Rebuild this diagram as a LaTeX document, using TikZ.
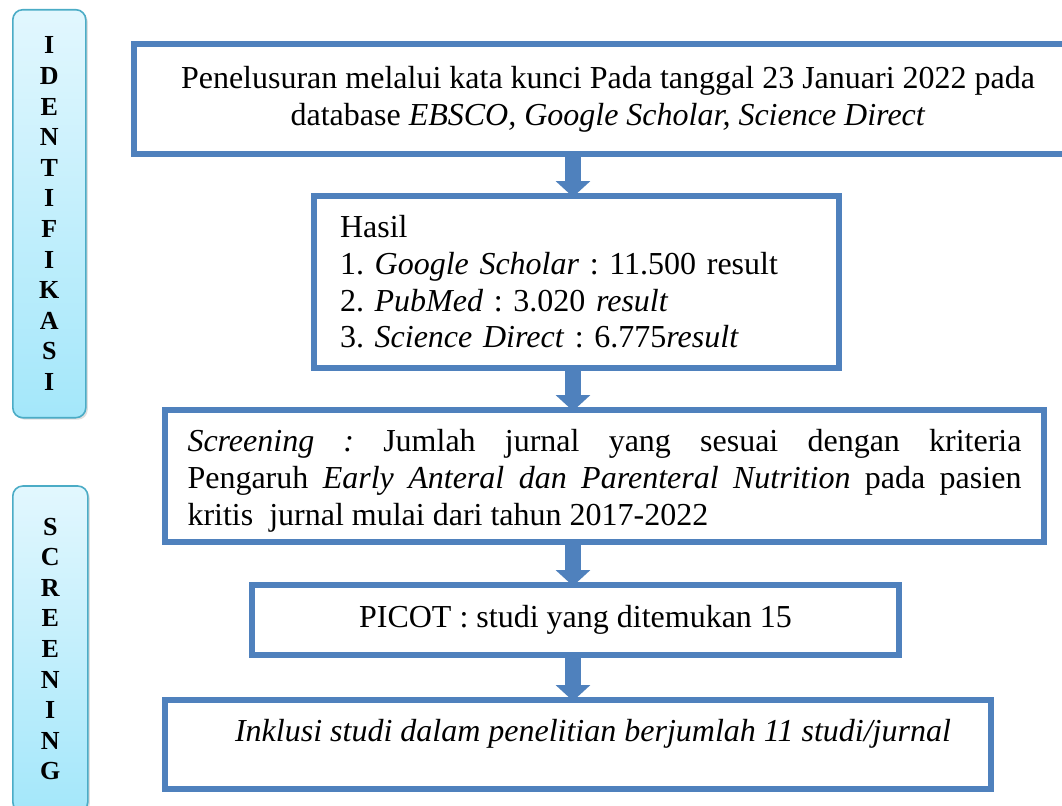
\documentclass[tikz,border=0pt]{standalone}
\usepackage{fontspec}
\setmainfont{Liberation Serif}
\usepackage{xcolor}
\usepackage{tikz}
\usetikzlibrary{arrows.meta, shadows}

\definecolor{boxblue}{RGB}{79,129,189}
\definecolor{sideedge}{RGB}{75,172,198}
\definecolor{sidetop}{RGB}{226,247,254}
\definecolor{sidebottom}{RGB}{164,231,250}

\begin{document}
\begin{tikzpicture}[x=0.5pt, y=-0.5pt,
    flowbox/.style={draw=boxblue, line width=3pt, fill=white, inner sep=0pt,
        font=\fontsize{16pt}{18.3pt}\selectfont\frenchspacing},
    sidebar/.style={draw=sideedge, line width=0.8pt, rounded corners=5pt,
        top color=sidetop, bottom color=sidebottom, inner sep=0pt, align=center,
        drop shadow={shadow xshift=1pt, shadow yshift=-1pt, opacity=0.25},
        font=\fontsize{13pt}{15.3pt}\selectfont\bfseries},
    flowarrow/.style={draw=boxblue, line width=8pt,
        -{Triangle[length=8pt, width=17pt]}, shorten <=-2pt, shorten >=-2pt}]
    \useasboundingbox (0,0) rectangle (1062,805);

    % Stage labels
    \node (idf) [sidebar, minimum width=36.5pt, minimum height=204pt] at (49.3,213.7)
        {I\\D\\E\\N\\T\\I\\F\\I\\K\\A\\S\\I};
    \node (scr) [sidebar, minimum width=37.5pt, minimum height=163pt] at (50.3,649)
        {S\\C\\R\\E\\E\\N\\I\\N\\G};

    % Flow boxes
    \node (search) [flowbox, align=center, minimum width=474pt, minimum height=55pt] at (608,99)
        {Penelusuran melalui kata kunci Pada tanggal 23 Januari 2022 pada\\
         database \textit{EBSCO, Google Scholar, Science Direct}};
    \node (result) [flowbox, align=left, text width=236.5pt,
        minimum width=262.5pt, minimum height=86pt] at (576.5,282)
        {Hasil\\
         1. \textit{Google Scholar} : 11.500 result\\
         2. \textit{PubMed} : 3.020 \textit{result}\\
         3. \textit{Science Direct} : 6.775\textit{result}};
    \node (screen) [flowbox, align=justify, text width=417pt,
        minimum width=439.5pt, minimum height=66pt] at (604.5,476)
        {\rule{0pt}{15.8pt}\textit{Screening :} Jumlah jurnal yang sesuai dengan kriteria\linebreak
         Pengaruh \textit{Early Anteral dan Parenteral Nutrition} pada pasien\linebreak
         kritis\ \ jurnal mulai dari tahun 2017-2022};
    \node (picot) [flowbox, minimum width=323.5pt, minimum height=35pt] at (575.5,620)
        {PICOT : studi yang ditemukan 15};
    \node (incl) [flowbox, text height=10.9pt, text depth=13.9pt,
        minimum width=413pt, minimum height=44.5pt] at (578,744.5)
        {\hspace*{15pt}\textit{Inklusi studi dalam penelitian berjumlah 11 studi/jurnal}};

    % Arrows
    \coordinate (ax) at (573,0);
    \draw[flowarrow] (search.south -| ax) -- (result.north -| ax);
    \draw[flowarrow] (result.south -| ax) -- (screen.north -| ax);
    \draw[flowarrow] (screen.south -| ax) -- (picot.north -| ax);
    \draw[flowarrow] (picot.south -| ax) -- (incl.north -| ax);
\end{tikzpicture}
\end{document}
